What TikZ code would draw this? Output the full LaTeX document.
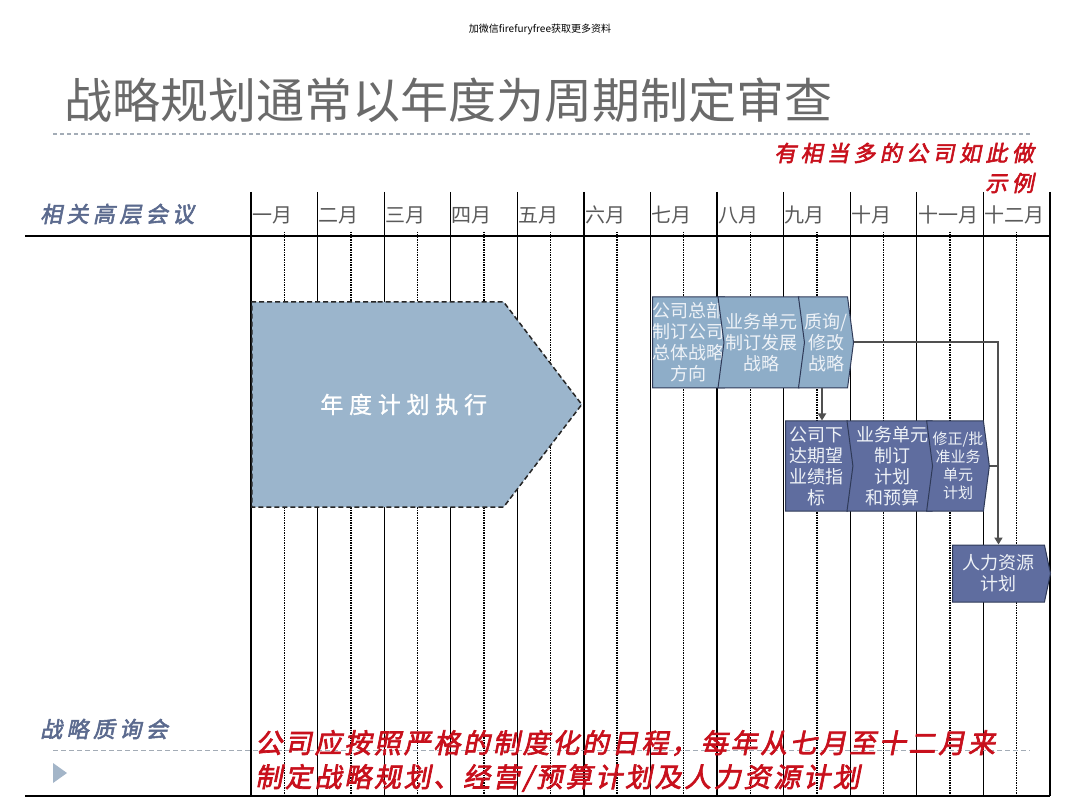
\documentclass[tikz,border=0pt]{standalone}
\usepackage{fontspec}
\usepackage{xcolor}
\usetikzlibrary{positioning,arrows.meta,shapes.symbols,calc}
\newfontfamily\cjk{Noto Sans CJK SC}
\newfontfamily\brush[FakeSlant=0.2,FakeBold=2.5,LetterSpace=20]{Noto Sans CJK SC}
\newfontfamily\redbrush[FakeSlant=0.2,FakeBold=2.5,LetterSpace=10]{Noto Sans CJK SC}
\newfontfamily\spaced[LetterSpace=25,FakeBold=1]{Noto Sans CJK SC}
\definecolor{uTitle}{HTML}{6A6A6A}
\definecolor{uHead}{HTML}{5B6A8E}
\definecolor{uRed}{HTML}{C8101C}
\definecolor{uMonth}{HTML}{5A5A5A}
\definecolor{uExec}{HTML}{9BB5CC}
\definecolor{uLight}{HTML}{8EADC8}
\definecolor{uDark}{HTML}{5F6D9F}
\definecolor{uEdge}{HTML}{2F3A58}
\definecolor{uPale}{HTML}{EEF2F7}
\definecolor{uLink}{HTML}{505050}
\definecolor{uRule}{HTML}{A3ACB6}
\definecolor{uTri}{HTML}{A3B5C8}
\tikzset{
  mon/.style={anchor=west, inner sep=0pt, text=uMonth,
              font=\cjk\fontsize{20}{22}\selectfont},
  gridline/.style={line width=1.3pt},
  midline/.style={line width=1.4pt, dash pattern=on 1.5pt off 1pt},
  rowline/.style={line width=2.6pt},
  head/.style={anchor=west, inner sep=0pt, text=uHead,
               font=\brush\fontsize{22}{24}\selectfont},
  % chevron steps of the planning cycle
  stepbox/.style={signal, draw=uEdge, line width=1pt, inner sep=0pt,
                  align=center, text=uPale, signal pointer angle=165,
                  font=\cjk\fontsize{18}{21}\selectfont},
  first/.style={stepbox, signal to=east, anchor=west},
  chev/.style={stepbox, signal to=east, signal from=west},
  light/.style={fill=uLight, minimum height=91pt},
  dark/.style={fill=uDark, minimum height=90pt},
  link/.style={draw=uLink, line width=2pt,
               -{Triangle[length=7pt,width=8pt]}},
  plain/.style={draw=uLink, line width=2pt},
  rednote/.style={anchor=west, inner sep=0pt, text=uRed,
                  font=\redbrush\fontsize{27}{30}\selectfont},
}

\begin{document}
\begin{tikzpicture}[x=1pt, y=-1pt]
\useasboundingbox (0,0) rectangle (1080,810);
\fill[white] (0,0) rectangle (1080,810);

\def\X{251}    % x of the first month line
\def\W{66.58}  % month width

%% ── heading ──────────────────────────────────────────────────────────────
\node[inner sep=0pt, font=\cjk\fontsize{10}{12}\selectfont] (wm) at (540,29)
  {加微信firefuryfree获取更多资料};
\node[anchor=west, inner sep=0pt, text=uTitle,
      font=\cjk\fontsize{48}{50}\selectfont] (title) at (64,100)
  {战略规划通常以年度为周期制定审查};
\draw[uRule, line width=1.5pt, dash pattern=on 4pt off 3pt] (53,134) -- (1030,134);
\node[anchor=east, inner sep=0pt, text=uRed,
      font=\brush\fontsize{22}{24}\selectfont] (note) at (1034,153)
  {有相当多的公司如此做};
\node[anchor=east, inner sep=0pt, text=uRed,
      font=\brush\fontsize{22}{24}\selectfont] (noteb) at (1034,183) {示例};

%% ── month grid ───────────────────────────────────────────────────────────
\foreach \i in {0,...,12}
  \draw[gridline] (\X+\i*\W,192) -- (\X+\i*\W,796);
\foreach \i in {0,...,11}
  \draw[midline] (\X+\i*\W+\W/2,232) -- (\X+\i*\W+\W/2,796);
\foreach \m [count=\i from 0] in {一月,二月,三月,四月,五月,六月,七月,八月,九月,十月,十一月,十二月}
  \node[mon] (m\i) at (\X+\i*\W+1,215) {\m};
\draw[rowline] (25,236) -- (1050,236);
\draw[rowline] (25,796) -- (1050,796);
\node[head] (hdr) at (40,214) {相关高层会议};
\node[head] (review) at (40,729) {战略质询会};

%% ── first half: running the annual plan ─────────────────────────────────
\node[signal, signal to=east, signal pointer angle=105.4, fill=uExec,
      draw=black!85, dash pattern=on 5pt off 3pt, line width=1.5pt,
      minimum width=330pt, minimum height=205pt, inner sep=0pt,
      text=white, anchor=west,
      font=\spaced\fontsize{23}{26}\selectfont] (exec) at (251,404.5)
  {\hspace*{52pt}年度计划执行};

%% ── second half: strategy, budget, people ───────────────────────────────
\node[first, light, minimum width=72pt] (hq) at (652,342.5)
  {公司总部\\制订公司\\总体战略\\方向};
\node[chev, light, minimum width=87pt] (bu) at (761.5,342.5)
  {业务单元\\制订发展\\战略};
\node[chev, light, minimum width=54pt] (qx) at (826,342.5)
  {质询/\\修改\\战略};
\node[first, dark, minimum width=68pt] (kpi) at (785,466)
  {公司下\\达期望\\业绩指\\标};
\node[chev, dark, minimum width=91pt] (plan) at (892.5,466)
  {业务单元\\制订\\计划\\和预算};
\node[chev, dark, minimum width=52pt,
      font=\cjk\fontsize{15}{18}\selectfont] (fix) at (958,466)
  {修正/批\\准业务\\单元\\计划};
\node[first, dark, minimum width=98pt, minimum height=57pt,
      signal pointer angle=156] (hr) at (952,573.5)
  {人力资源\\计划};

\draw[link] ([xshift=-4pt]qx.south) -- ([xshift=-4pt]qx.south |- kpi.north);
\draw[link] (qx.east) -| (hr.north);
\draw[plain] (fix.east) -- (fix.east -| hr.north);

%% ── footer ───────────────────────────────────────────────────────────────
\draw[uRule, line width=1pt, dash pattern=on 5pt off 3pt] (53,750) -- (1030,750);
\fill[uTri] (53,763) -- (67,773) -- (53,783) -- cycle;
\node[rednote] (rule1) at (255,743)
  {公司应按照严格的制度化的日程，每年从七月至十二月来};
\node[rednote] (rule2) at (255,778)
  {制定战略规划、经营/预算计划及人力资源计划};

\end{tikzpicture}
\end{document}
